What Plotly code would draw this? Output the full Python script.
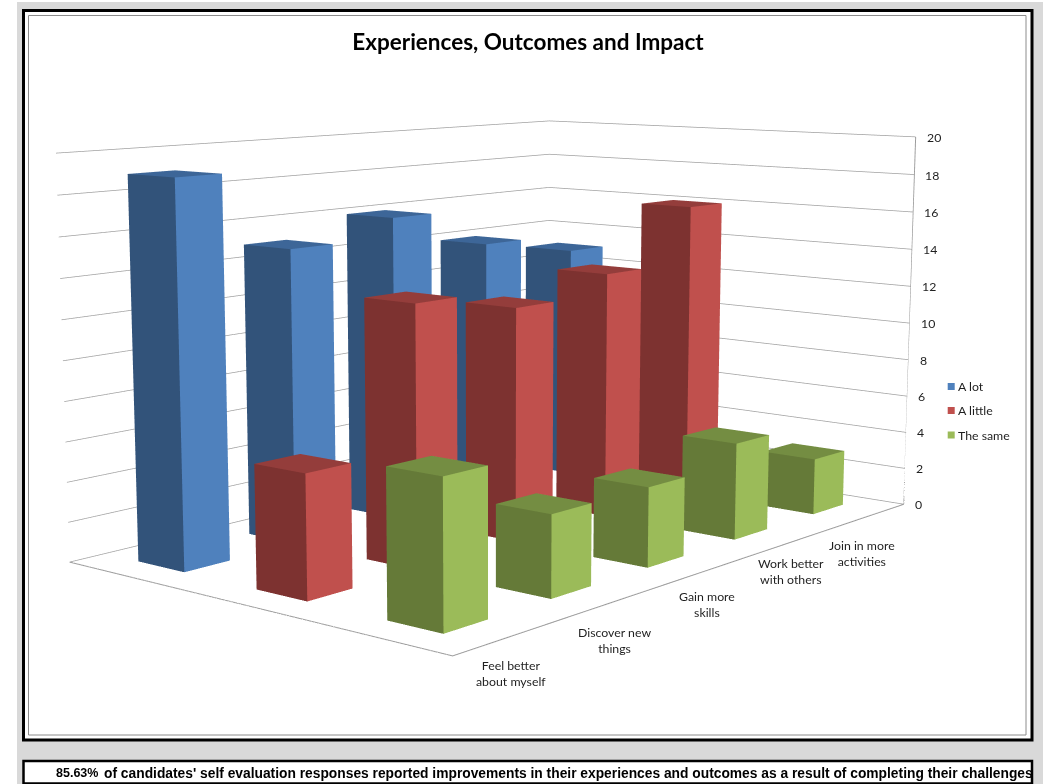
import plotly.graph_objects as go

categories = ["Feel better<br>about myself", "Discover new<br>things", "Gain more<br>skills",
              "Work better<br>with others", "Join in more<br>activities"]
a_lot = [19, 15, 16, 14, 13]
a_little = [6, 13, 12, 13, 16]
the_same = [7, 4, 4, 5, 3]
value_ticks = list(range(0, 21, 2))
title_text = "Experiences, Outcomes and Impact"
note_value = "85.63%"
note_text = "of candidates' self evaluation responses reported improvements in their experiences and outcomes as a result of completing their challenges"

W, H, LEFT, TOP = 1300, 1861, -158, -541
px = lambda x: (x - LEFT) / W
py = lambda y: 1 - (y - TOP) / H

series = [
    ("A lot", a_lot, 2, "#4F81BD", "#32537A", "#3D6698", 386.5),
    ("A little", a_little, 1, "#C0504D", "#7D3230", "#943D3B", 410.5),
    ("The same", the_same, 0, "#9BBB59", "#657A38", "#748D42", 435),
]
BW, BD = 0.2, 0.2

fig = go.Figure()
for name, vals, row, light, dark, top, _ in series:
    X, Y, Z, I, J, K, FC = [], [], [], [], [], [], []
    for c, v in enumerate(vals):
        n = len(X)
        x0, x1, y0, y1 = c - BW, c + BW, row - BD, row + BD
        X += [x0, x1, x1, x0, x0, x1, x1, x0]
        Y += [y0, y0, y1, y1, y0, y0, y1, y1]
        Z += [0, 0, 0, 0, v, v, v, v]
        faces = [((0, 1, 5), light), ((0, 5, 4), light),
                 ((0, 4, 7), dark), ((0, 7, 3), dark),
                 ((4, 5, 6), top), ((4, 6, 7), top),
                 ((1, 2, 6), light), ((1, 6, 5), light),
                 ((3, 7, 6), dark), ((3, 6, 2), dark)]
        for (a, b, d), col in faces:
            I.append(n + a); J.append(n + b); K.append(n + d); FC.append(col)
    fig.add_trace(go.Mesh3d(x=X, y=Y, z=Z, i=I, j=J, k=K, facecolor=FC, flatshading=True, name=name,
                            showlegend=False, showscale=False, hoverinfo="skip",
                            lighting=dict(ambient=1, diffuse=0, specular=0, roughness=1, fresnel=0)))

edge = "#9c9c9c"
fig.add_trace(go.Scatter3d(x=[-.5, -.5, 4.5], y=[2.5, -.5, -.5], z=[0, 0, 0], mode="lines",
                           line=dict(color=edge, width=2), showlegend=False, hoverinfo="skip"))
fig.add_trace(go.Scatter3d(x=[4.5, 4.5], y=[-.5, -.5], z=[0, 20], mode="lines",
                           line=dict(color=edge, width=2), showlegend=False, hoverinfo="skip"))

lab_font = dict(family="Lato", size=12.3, color="#1f1f1f")
annots = [dict(x=4.5, y=-.5, z=v, text=str(v), showarrow=False, xshift=9, yshift=-0.5, font=lab_font, xanchor="left")
          for v in value_ticks]
cat_shift = [(1, -37), (0, -39), (-1, -34), (-1, -30), (-6, -37)]
annots += [dict(x=i, y=-.5, z=0, text=t, showarrow=False, xshift=cat_shift[i][0], yshift=cat_shift[i][1], font=lab_font)
           for i, t in enumerate(categories)]

axis = dict(showgrid=False, zeroline=False, showticklabels=False, showline=False, showbackground=False,
            ticks="", title="", showspikes=False)
def rect(x0, y0, x1, y1, fill, line=None, w=0):
    return dict(type="rect", xref="paper", yref="paper", x0=px(x0), x1=px(x1), y0=py(y0), y1=py(y1), fillcolor=fill,
                line=dict(color=line or fill, width=w), layer="below")
shapes = [
    rect(17, 2, 1050, 790, "#d9d9d9"),
    rect(23.5, 10.5, 1032, 740, "white", "black", 3),
    rect(28.5, 15.5, 1026, 735, "white", "#8c8c8c", 1),
    rect(23.5, 761, 1032, 783.5, "white", "black", 2.5),
]
paper_ann = []
for name, _, _, light, _, _, ly in series:
    shapes.append(rect(947.7, ly - 3.5, 954.7, ly + 3.5, light))
    paper_ann.append(dict(xref="paper", yref="paper", x=px(956), y=py(ly), xanchor="left", yanchor="middle",
                          showarrow=False, text=name, font=lab_font))
bold = dict(family="Liberation Sans", color="black", weight="bold")
paper_ann.append(dict(xref="paper", yref="paper", x=px(55), y=py(773), xanchor="left", yanchor="middle", showarrow=False,
                      text=note_value, font=dict(bold, size=12.5), borderpad=0))
paper_ann.append(dict(xref="paper", yref="paper", x=px(103), y=py(773), xanchor="left", yanchor="middle", width=926, height=20,
                      align="left", showarrow=False, text=note_text, font=dict(bold, size=13.8), borderpad=0))

fig.update_layout(
    width=W, height=H, autosize=False, margin=dict(l=0, r=0, t=0, b=0, pad=0),
    paper_bgcolor="white", showlegend=False,
    title=dict(text=title_text, x=px(528), y=py(42), xref="paper", yref="paper", xanchor="center", yanchor="middle",
               font=dict(family="Lato", size=22.5, color="black", weight="bold")),
    scene=dict(
        domain=dict(x=[0, 1], y=[0, 1]),
        xaxis=dict(axis, range=[-.5, 4.5]),
        yaxis=dict(axis, range=[-.5, 2.5]),
        zaxis=dict(axis, range=[0, 20], dtick=2, showgrid=True, gridcolor="#a0a0a0", gridwidth=1.5),
        aspectmode="manual", aspectratio=dict(x=1, y=0.6615, z=0.5315),
        camera=dict(eye=dict(x=-2.3276, y=-1.9211, z=0.4566), center=dict(x=0.0211, y=0.0489, z=-0.0752),
                    up=dict(x=-0.0076, y=-0.0074, z=1), projection=dict(type="perspective")),
        annotations=annots,
    ),
    shapes=shapes,
    annotations=paper_ann,
)
post = f"""
document.documentElement.style.overflow='hidden';
document.body.style.margin='0';document.body.style.overflow='hidden';
var g=document.getElementsByClassName('plotly-graph-div')[0];
g.style.position='absolute';g.style.left='{LEFT}px';g.style.top='{TOP}px';
"""
fig.write_html("out.html", post_script=post, config=dict(displayModeBar=False))
